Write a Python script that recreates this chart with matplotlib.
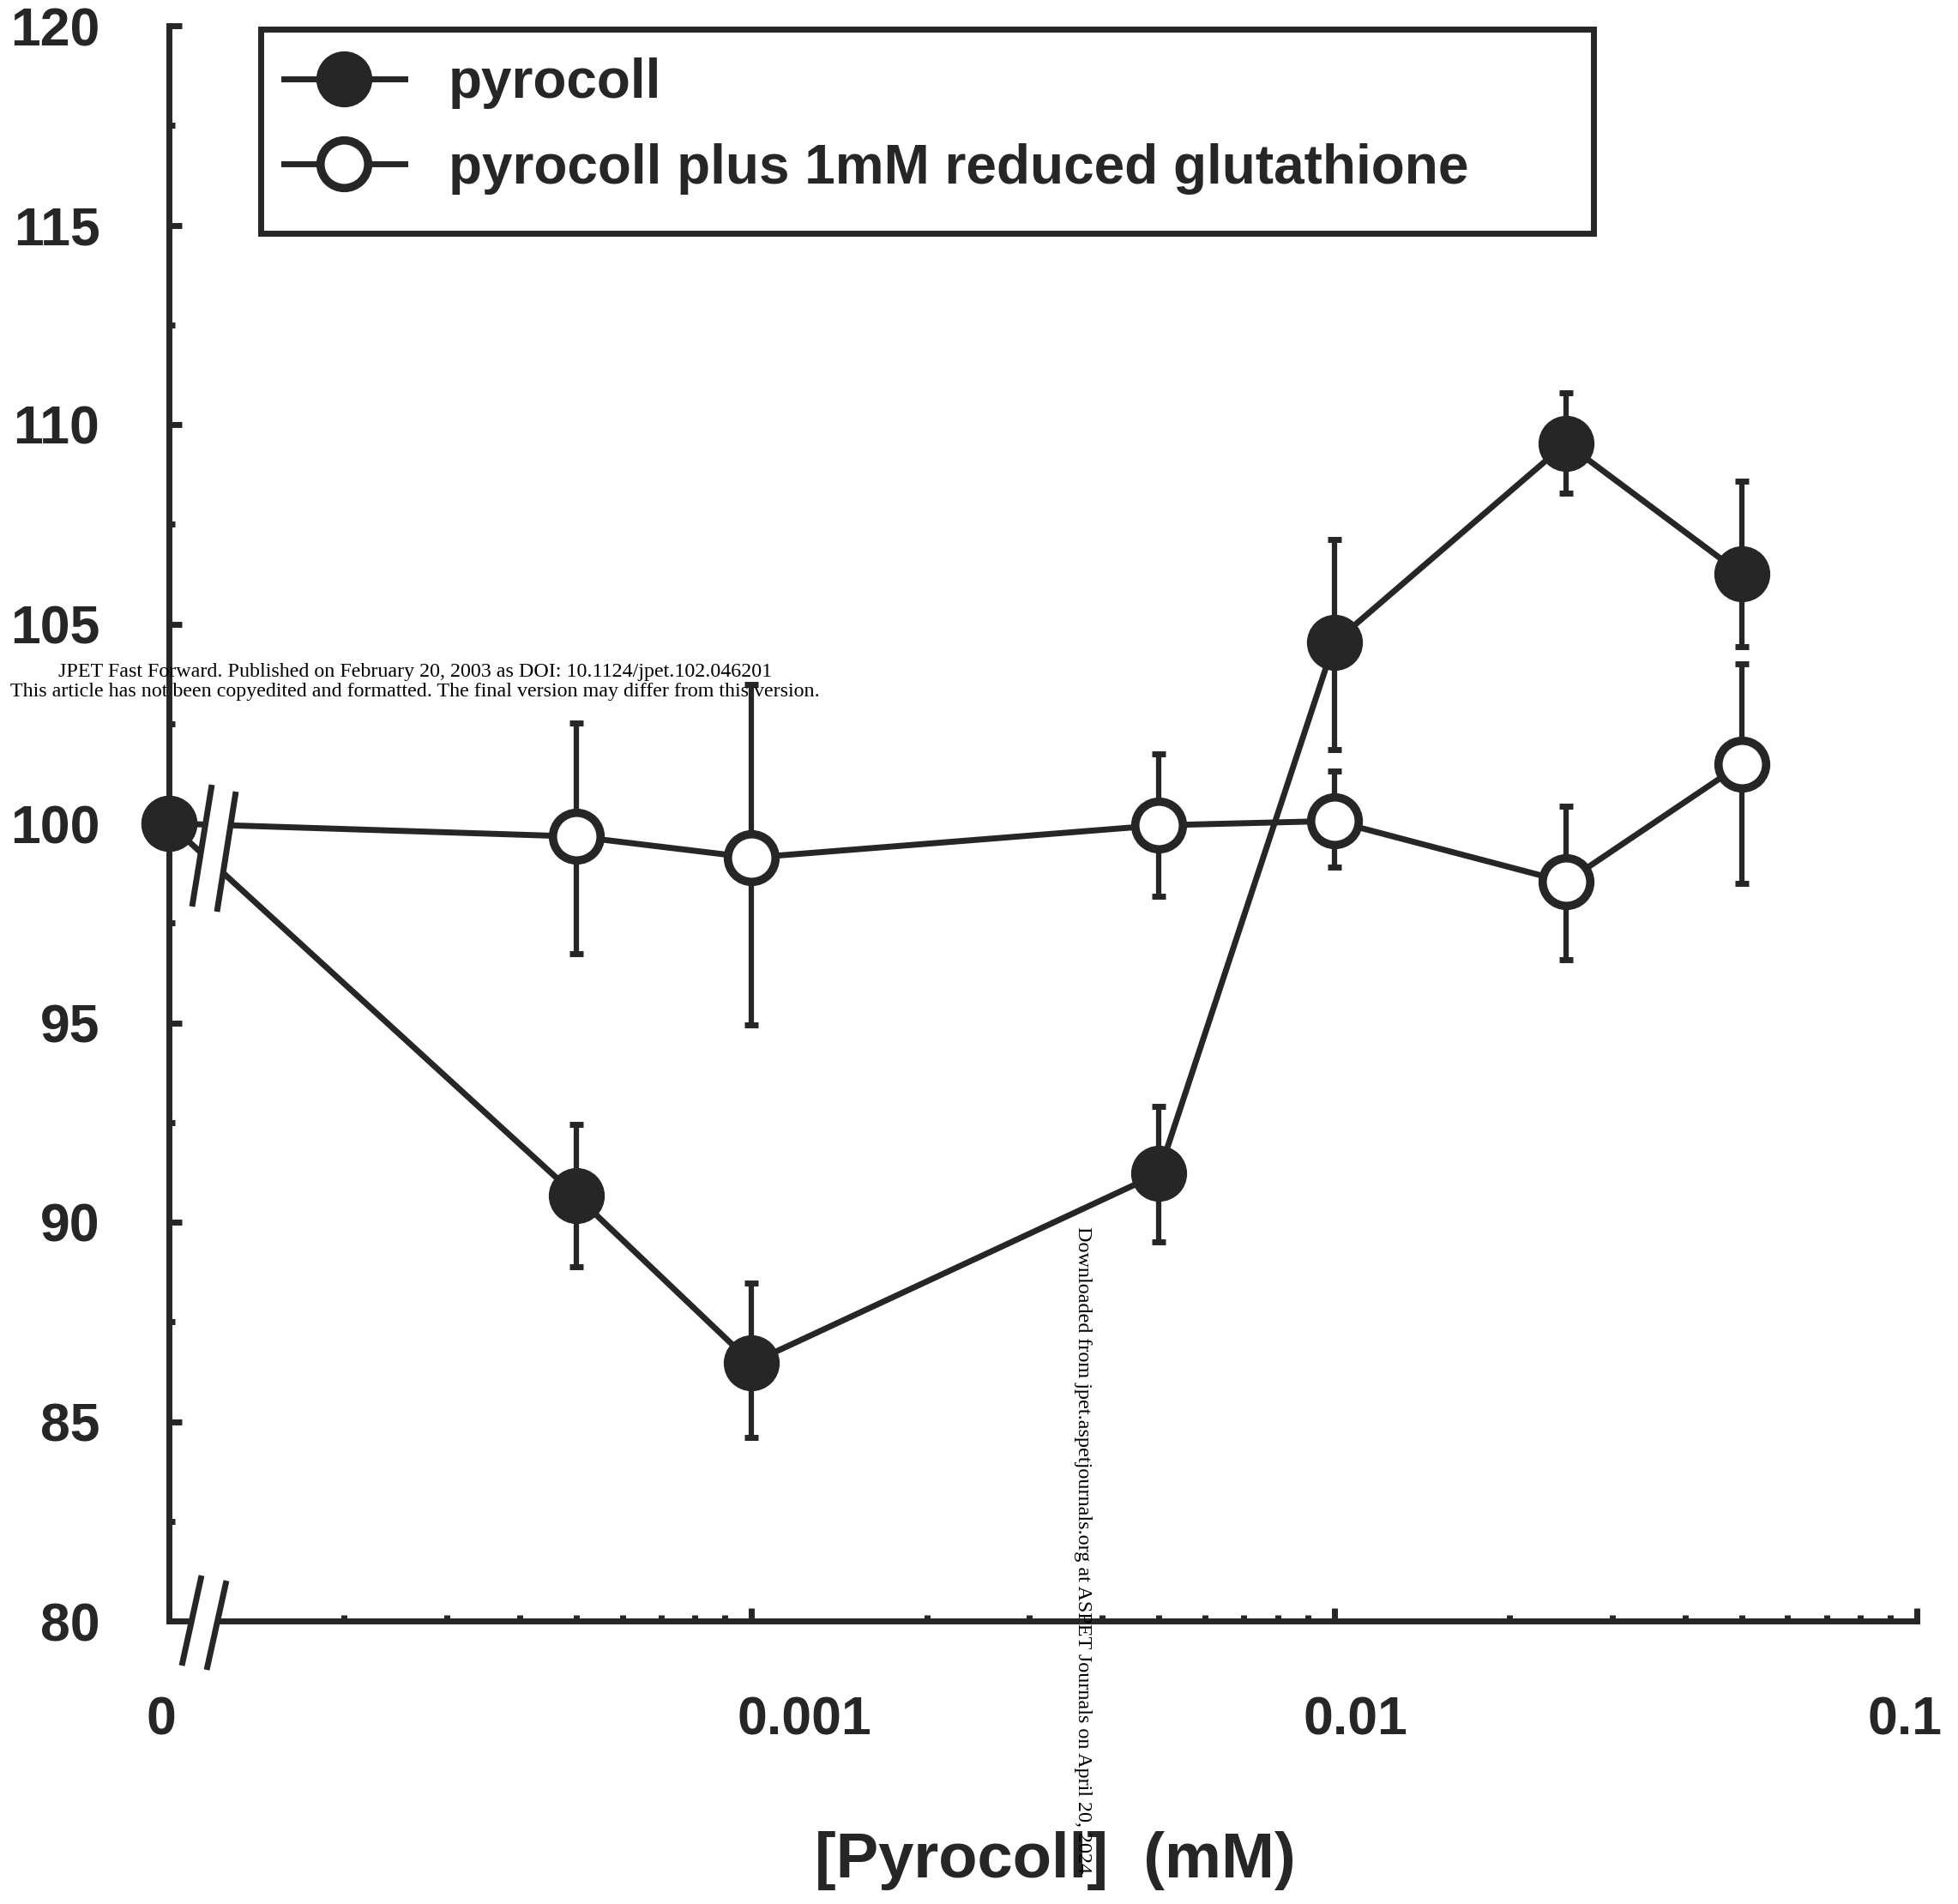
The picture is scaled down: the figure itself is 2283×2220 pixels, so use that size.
import matplotlib.pyplot as plt
import matplotlib.patches as patches
import matplotlib.ticker as ticker
from matplotlib.lines import Line2D
from matplotlib.transforms import ScaledTranslation
import numpy as np

# --- DATA ---
conc_labels = ['0', '0.0005', '0.001', '0.005', '0.01', '0.025', '0.05']
zero_pos = 1e-4  # the "0" control is drawn at the axis origin
conc = [zero_pos, 0.0005, 0.001, 0.005, 0.01, 0.025, 0.05]

pyro_mean = [100.0, 90.66, 86.47, 91.22, 104.53, 109.53, 106.25]
pyro_hi = [0, 1.79, 2.00, 1.68, 2.59, 1.27, 2.32]
pyro_lo = [0, 1.78, 1.87, 1.72, 2.68, 1.25, 1.83]

gsh_mean = [100.0, 99.67, 99.14, 99.95, 100.06, 98.53, 101.49]
gsh_hi = [0, 2.85, 4.35, 1.79, 1.26, 1.90, 2.51]
gsh_lo = [0, 2.94, 4.19, 1.78, 1.15, 1.94, 2.99]

xtick_pos = [1e-4, 1e-3, 1e-2, 1e-1]
xtick_labels = ['0', '0.001', '0.01', '0.1']
xtick_shift_px = [-9, 62, 25, -14]  # labels sit a bit off their ticks

series_labels = ['pyrocoll', 'pyrocoll plus 1mM reduced glutathione']

# --- STYLE ---
W, H = 2283, 2220
DPI = 100
INK = '#262626'
MS = 40
MEW = 7
LW = 5

fig = plt.figure(figsize=(W / DPI, H / DPI), dpi=DPI, facecolor='white')
ax = fig.add_axes([197 / W, 1 - 1890 / H, (2235 - 197) / W, 1860 / H])

# error bars first so markers sit on top
ax.errorbar(conc, gsh_mean, yerr=[gsh_lo, gsh_hi], fmt='none', ecolor=INK,
            elinewidth=4.5, capsize=6, capthick=5, zorder=2)
ax.errorbar(conc, pyro_mean, yerr=[pyro_lo, pyro_hi], fmt='none', ecolor=INK,
            elinewidth=4.5, capsize=6, capthick=5, zorder=2)

ax.plot(conc, gsh_mean, color=INK, lw=LW, marker='o', ms=MS, mfc='white',
        mec=INK, mew=MEW, zorder=3, clip_on=False)
ax.plot(conc, pyro_mean, color=INK, lw=LW, marker='o', ms=MS, mfc=INK,
        mec=INK, mew=MEW, zorder=4, clip_on=False)

# --- AXES ---
ax.set_xscale('log')
ax.set_xlim(1e-4, 1e-1)
ax.set_ylim(80, 120)

for s in ['top', 'right']:
    ax.spines[s].set_visible(False)
for s in ['left', 'bottom']:
    ax.spines[s].set_linewidth(5)
    ax.spines[s].set_color(INK)

ax.xaxis.set_major_locator(ticker.FixedLocator(xtick_pos))
ax.xaxis.set_major_formatter(ticker.FixedFormatter(xtick_labels))
ax.xaxis.set_minor_locator(ticker.LogLocator(base=10, subs=np.arange(2, 10)))
ax.xaxis.set_minor_formatter(ticker.NullFormatter())
ax.yaxis.set_major_locator(ticker.MultipleLocator(5))
ax.yaxis.set_minor_locator(ticker.MultipleLocator(2.5))

tick_font = dict(family='Liberation Sans', weight='bold', size=45)
ax.tick_params(which='both', direction='in', color=INK, width=5)
ax.tick_params(which='major', length=11)
ax.tick_params(which='minor', length=5)
ax.tick_params(axis='x', which='major', pad=62, labelcolor=INK)
ax.tick_params(axis='y', which='major', pad=58, labelcolor=INK)
for lab in ax.get_xticklabels() + ax.get_yticklabels():
    lab.set_fontproperties(tick_font)
for lab, dx in zip(ax.get_xticklabels(), xtick_shift_px):
    lab.set_transform(lab.get_transform() + ScaledTranslation(dx / DPI, 0, fig.dpi_scale_trans))

ax.set_xlabel('[Pyrocoll]  (mM)', fontfamily='Liberation Sans', fontweight='bold',
              fontsize=53.5, color=INK, labelpad=0)
ax.xaxis.set_label_coords(1230 / W, 1 - 2170 / H, transform=fig.transFigure)
ax.xaxis.label.set_va('center')


# --- AXIS BREAKS (white gap + two slanted strokes) ---
def axes_frac(px, py):
    return (px - 197) / 2038, (1890 - py) / 1860


def draw_break(p1a, p1b, p2a, p2b):
    a1, b1, a2, b2 = [axes_frac(*p) for p in (p1a, p1b, p2a, p2b)]
    gap = patches.Polygon([a1, b1, b2, a2], closed=True, fc='white', ec='none',
                          transform=ax.transAxes, clip_on=False, zorder=6)
    ax.add_patch(gap)
    for a, b in ((a1, b1), (a2, b2)):
        ax.add_line(Line2D([a[0], b[0]], [a[1], b[1]], color=INK, lw=5,
                           transform=ax.transAxes, clip_on=False, zorder=7,
                           solid_capstyle='butt'))


draw_break((235, 1837), (212, 1942), (264, 1843), (241, 1947))
draw_break((247, 915), (224, 1057), (275, 923), (253, 1063))

# --- LEGEND ---
h1 = Line2D([], [], color=INK, lw=LW, marker='o', ms=MS, mfc=INK, mec=INK, mew=MEW)
h2 = Line2D([], [], color=INK, lw=LW, marker='o', ms=MS, mfc='white', mec=INK, mew=MEW)
leg = ax.legend([h1, h2], series_labels, loc='upper left',
                bbox_to_anchor=(331 / W, 1 - 67 / H), bbox_transform=fig.transFigure,
                frameon=False, borderpad=0, borderaxespad=0, handlelength=2.2,
                handletextpad=0.8, labelspacing=0.62, numpoints=1,
                prop=dict(family='Liberation Sans', weight='bold', size=46))
for t in leg.get_texts():
    t.set_color(INK)
frame = patches.Rectangle((303.5 / W, 1 - 271.5 / H), (1857.5 - 303.5) / W, (271.5 - 34.5) / H,
                          transform=fig.transFigure, fill=False, lw=5, ec=INK)
fig.add_artist(frame)

# --- WATERMARKS ---
fig.text(484 / W, 1 - 783 / H,
         'JPET Fast Forward. Published on February 20, 2003 as DOI: 10.1124/jpet.102.046201',
         family='Liberation Serif', fontsize=17.3, color='black', ha='center', va='center')
fig.text(484 / W, 1 - 806 / H,
         'This article has not been copyedited and formatted. The final version may differ from this version.',
         family='Liberation Serif', fontsize=17.3, color='black', ha='center', va='center')
fig.text(1263 / W, 1 - 1430 / H,
         'Downloaded from jpet.aspetjournals.org at ASPET Journals on April 20, 2024',
         family='Liberation Serif', fontsize=17.4, color='black', ha='center', va='top',
         rotation=-90)

fig.savefig('out.png', dpi=DPI, facecolor='white')
